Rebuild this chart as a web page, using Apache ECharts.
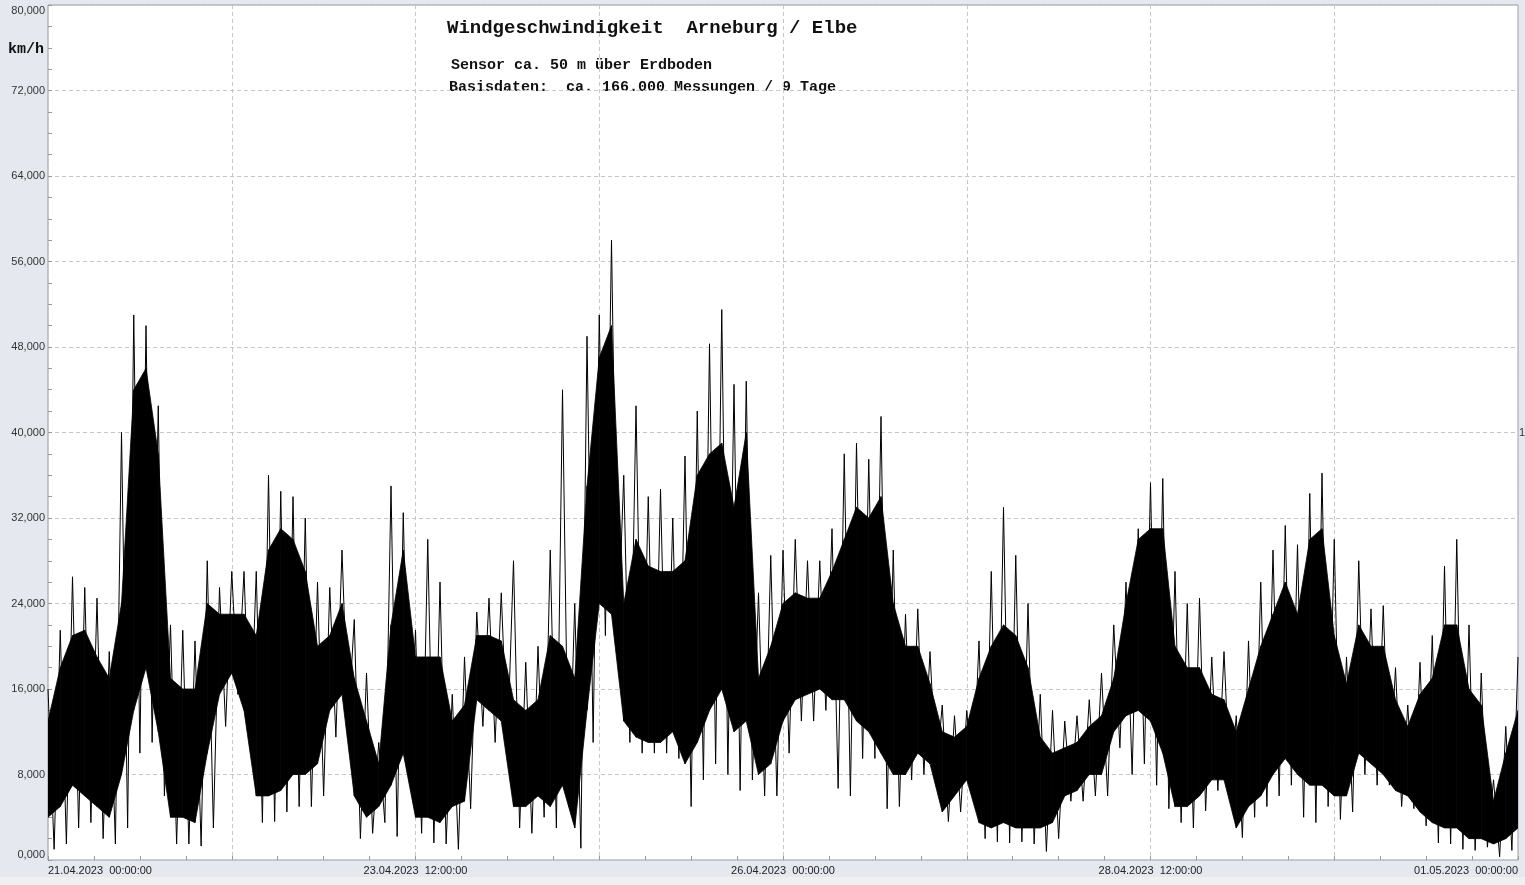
<!DOCTYPE html>
<html><head><meta charset="utf-8">
<script src="https://cdn.jsdelivr.net/npm/echarts@6/dist/echarts.min.js"></script>
<style>html,body{margin:0;padding:0;background:#e5e8ee;overflow:hidden}#c{width:1525px;height:885px}</style>
</head><body><div id="c"></div><script>
// hours since 21.04.2023 00:00
const hours = [0,2,4,6,8,10,12,14,16,18,20,22,24,26,28,30,32,34,36,38,40,42,44,46,48,50,52,54,56,58,60,62,64,66,68,70,72,74,76,78,80,82,84,86,88,90,92,94,96,98,100,102,104,106,108,110,112,114,116,118,120,122,124,126,128,130,132,134,136,138,140,142,144,146,148,150,152,154,156,158,160,162,164,166,168,170,172,174,176,178,180,182,184,186,188,190,192,194,196,198,200,202,204,206,208,210,212,214,216,218,220,222,224,226,228,230,232,234,236,238,240];
// peak gusts (km/h) in each 2h window
const peakKmh = [16,21.5,26.5,25.5,24.5,19.5,40,51,50,42.5,22,21.5,20.5,28,25.5,27,27,27,36,34.5,34,32,26,25.5,29,22.5,17.5,11,35,32.5,21.5,30,26,15.5,19,23.2,24.5,25,28,18.5,20,29,44,24,49,51,58,36,42.5,34,34.7,32,37.8,42,48.3,51.5,44.5,44.8,25,28.5,29,30,28,28,31,38,39,37.5,41.5,29,23,23.5,19.5,14.5,13.5,14,20.5,27,33,28.5,24,15.5,14,13,13.5,15,17.5,22,26,31,35.3,35.7,27,24,24.5,19,19.5,13.5,20.5,26,29,31.3,29.5,34.3,36.2,30,19,28,23.5,23.8,18,14.5,18.5,21,27.5,30,22,17.5,7.5,12.5,19];
// upper edge of the dense band
const coreHigh = [13,18,21,21.5,19,17,24,44,46,38,17,16,16,24,23,23,23,21,29,31,30,27,20,21,24,17,13,9,22,29,19,19,19,13,14.5,21,21,20.5,15,14,15,21,20,17,35,47,50,24,30,27.5,27,27,28,36,38,39,33,40,17,20,24,25,24.5,24.5,27,30,33,32,34,24,20,20,16.5,12,11.5,12.5,17,20,22,21,18,11.5,10,10.5,11,12.5,13.5,17,24,30,31,31,20,18,18,15.5,15,12,16,20,23,26,23,30,31,21,16.5,22,20,20,15,12.5,15.5,17,22,22,16,14.5,5.5,10,14];
// lower edge of the dense band
const coreLow = [4,5,7,6,5,4,8,14,18,12,4,4,3.5,10,15.5,17.5,14,6,6,6.5,8,8,9,14,15.5,6,4,5,7,10,4,4,3.5,5,5.5,15,14,13,5,5,6,5,7,3,14,24,23,13,11.5,11,11,12,9,11,14,16,12,13,8,9,13,15,15.5,16,15,15,13,12,10,8,8,10,9,4.5,6,7.5,3.5,3,3.5,3,3,3,3.5,6,6.5,8,8,12,13.5,14,13,10,5,5,6,7.5,7.5,3,5,6,8,9.5,8,7,7,6,6,10,9,8,6.5,6,4.5,3.5,3,3,2,2,1.5,2,3];
// lowest readings in each 2h window
const troughKmh = [1,1.5,3,3.5,2,1.5,3,10,11,6,1.5,1.5,1.3,3,12.5,15.5,10.6,3.5,3.6,4.5,5,5,6,11.5,12.5,2,2.5,3.5,2.2,7.5,2.5,1.6,1.5,1,4.8,12.5,11,10.5,3,2.5,4,3,5,1.1,11,21,20,11,10,10,10,9.5,5,7.5,9,8,6.5,7.5,6,6,10,13,13,14,6.7,6,9.5,9.5,4.8,5,7.5,8,8,3.6,4.5,7,2,1.7,1.6,1.7,1.5,0.8,2,5.5,5.5,6,6,10.5,8,9,7,4.8,3.5,3,4.6,6.5,6.5,2.1,4,5,6,7,4,3.5,5,3.8,4.5,8,7,7,5,4.8,3.2,1.6,1.5,1,0.9,1.2,0.3,0.9,2];

const xTickHours = [0,60,120,180,240];
const xTickLabels = ['21.04.2023  00:00:00','23.04.2023  12:00:00','26.04.2023  00:00:00','28.04.2023  12:00:00','01.05.2023  00:00:00'];
const yTickLabels = ['0,000','8,000','16,000','24,000','32,000','40,000','48,000','56,000','64,000','72,000','80,000'];
const titleText = 'Windgeschwindigkeit  Arneburg / Elbe';
const subText1 = 'Sensor ca. 50 m über Erdboden';
const subText2 = 'Basisdaten:  ca. 166.000 Messungen / 9 Tage';
const unitText = 'km/h';

// band segments between consecutive samples
const bandData = [];
for (let i = 0; i < hours.length - 1; i++) {
  bandData.push([hours[i], coreHigh[i], coreLow[i], hours[i+1], coreHigh[i+1], coreLow[i+1]]);
}
// zigzag between peaks and troughs
const spikeData = [];
hours.forEach((t,i)=>{ spikeData.push([t, peakKmh[i]]); if (i < hours.length-1) spikeData.push([t+1, troughKmh[i]]); });

const chart = echarts.init(document.getElementById('c'), null, {renderer:'canvas'});
const gridStyle = {color:'#c6c6c6', type:[4,3], width:1};
chart.setOption({
  animation:false,
  backgroundColor:'#e5e8ee',
  grid:{left:48, right:7, top:5, bottom:25, show:true, backgroundColor:'#ffffff', borderColor:'#9a9a9a', borderWidth:1},
  xAxis:{type:'value', min:0, max:240, interval:30,
    axisLine:{show:false},
    axisTick:{show:true, inside:true, length:4, lineStyle:{color:'#999'}},
    minorTick:{show:true, splitNumber:4, length:4, lineStyle:{color:'#999'}},
    splitLine:{show:true, lineStyle:gridStyle},
    axisLabel:{fontSize:11, fontFamily:'Liberation Sans, Arial, sans-serif', color:'#222', margin:5,
      showMinLabel:true, showMaxLabel:true, hideOverlap:false,
      alignMinLabel:'left', alignMaxLabel:'right',
      formatter:v=>{const k=xTickHours.indexOf(Math.round(v)); return k>=0?xTickLabels[k]:'';}}
  },
  yAxis:{type:'value', min:0, max:80, interval:8,
    axisLine:{show:false},
    axisTick:{show:true, inside:true, length:4, lineStyle:{color:'#999'}},
    minorTick:{show:true, splitNumber:4, length:4, lineStyle:{color:'#999'}},
    splitLine:{show:true, lineStyle:gridStyle},
    axisLabel:{fontSize:11, fontFamily:'Liberation Sans, Arial, sans-serif', color:'#333', margin:3,
      showMinLabel:true, showMaxLabel:true,
      verticalAlignMinLabel:'bottom', verticalAlignMaxLabel:'top',
      formatter:v=>yTickLabels[Math.round(v/8)]}
  },
  series:[
    {type:'custom', data:bandData, silent:true, clip:true,
      encode:{x:[0,3], y:[1,2,4,5]},
      renderItem:(params, api)=>{
        const a = api.coord([api.value(0), api.value(1)]);
        const b = api.coord([api.value(3), api.value(4)]);
        const c = api.coord([api.value(3), api.value(5)]);
        const d = api.coord([api.value(0), api.value(2)]);
        return {type:'polygon', shape:{points:[a,b,c,d]}, style:{fill:'#000', stroke:'#000', lineWidth:0.8}};
      }},
    {type:'line', data:spikeData, symbol:'none', silent:true, lineStyle:{color:'#000', width:1}}
  ],
  graphic:[
    {type:'rect', shape:{x:0, y:877, width:1525, height:8}, style:{fill:'#f0f0f0'}, silent:true},
    {type:'text', left:8, top:42, style:{text:unitText, font:'bold 15px "Liberation Mono", monospace', fill:'#111'}},
    {type:'text', left:447, top:19, style:{text:titleText, font:'bold 19px "Liberation Mono", monospace', fill:'#111'}},
    {type:'text', left:451, top:58, style:{text:subText1, font:'bold 15px "Liberation Mono", monospace', fill:'#111'}},
    {type:'text', left:449, top:80, style:{text:subText2, font:'bold 15px "Liberation Mono", monospace', fill:'#111'}},
    {type:'text', left:1519, top:427, style:{text:'1', font:'11px "Liberation Sans", sans-serif', fill:'#333'}}
  ]
});
</script></body></html>
